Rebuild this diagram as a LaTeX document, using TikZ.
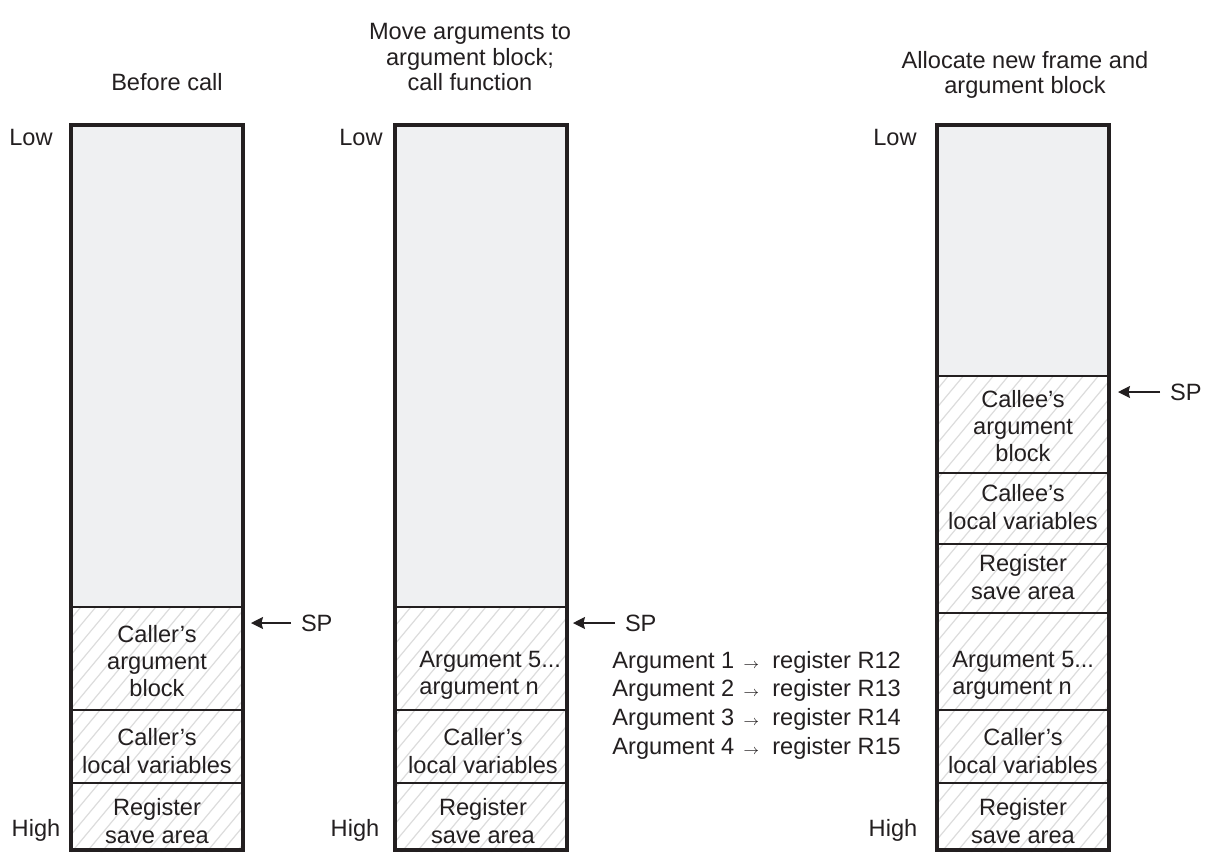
\documentclass[tikz,border=0pt]{standalone}
\usepackage{fontspec}
\setmainfont{Liberation Sans}
\usetikzlibrary{arrows.meta}

\definecolor{ink}{HTML}{231F20}
\definecolor{emptygray}{HTML}{EFF0F2}
\definecolor{hatchgray}{HTML}{DCDCDC}

\newcommand{\regarrow}{\hspace{4.5pt}{\fontsize{7.5}{7.5}\selectfont$\rightarrow$}\hspace{6.5pt}}

\begin{document}
\begin{tikzpicture}[x=0.5pt,y=-0.5pt,
	txt/.style={align=center,font=\fontsize{11.8}{13.6}\selectfont,text=ink,inner sep=0pt},
	title/.style={align=center,font=\fontsize{11.8}{12.8}\selectfont,text=ink,inner sep=0pt},
	side/.style={font=\fontsize{11.8}{13}\selectfont,text=ink,inner sep=0pt},
	frame/.style={line width=1.75pt,draw=ink},
	sep/.style={line width=0.65pt,draw=ink},
	hatch/.style={line width=0.6pt,draw=hatchgray},
	spnote/.style={font=\fontsize{11.8}{13.6}\selectfont,text=ink,inner sep=0pt,outer sep=5pt,anchor=west},
	sparrow/.style={line width=0.7pt,draw=ink,-{Stealth[length=6pt,width=6pt,inset=0.8pt]}}]

		\useasboundingbox (0,0) rectangle (1205,852);

		% empty part of the stacks
		\fill[emptygray] (71,125) rectangle (243,607);
		\fill[emptygray] (395,125) rectangle (567,607);
		\fill[emptygray] (937,125) rectangle (1109,376);

		% hatched (used) part of the stacks
		\begin{scope}
			\clip (71,607) rectangle (243,852) (395,607) rectangle (567,852) (937,376) rectangle (1109,852);
			\foreach \x in {-700,-685,...,1200}
				\draw[hatch] (\x,860) -- ++(600,-720);
		\end{scope}

		% block boundaries
		\foreach \y in {607,710,783} {
			\draw[sep] (71,\y) -- (243,\y);
			\draw[sep] (395,\y) -- (567,\y);
		}
		\foreach \y in {376,473,544,613,710,783}
			\draw[sep] (937,\y) -- (1109,\y);

		% stack outlines
		\draw[frame] (71,850) -- (71,125) -- (243,125) -- (243,850) -- cycle;
		\draw[frame] (395,850) -- (395,125) -- (567,125) -- (567,850) -- cycle;
		\draw[frame] (937,850) -- (937,125) -- (1109,125) -- (1109,850) -- cycle;

		% titles
		\node[title] (before) at (167,82) {Before call};
		\node[title] (move) at (470,57) {Move arguments to\\argument block;\\call function};
		\node[title] (alloc) at (1025,75) {Allocate new frame and\\argument block};

		\node[side] (low1) at (31,137) {Low};
		\node[side] (low2) at (361,137) {Low};
		\node[side] (low3) at (895,137) {Low};
		\node[side] (high1) at (36,830) {High};
		\node[side] (high2) at (355,830) {High};
		\node[side] (high3) at (893,830) {High};

		% before call
		\node[txt] (argblk1) at (157,661) {Caller’s\\argument\\block};
		\node[txt] (locals1) at (157,751) {Caller’s\\local variables};
		\node[txt] (regsave1) at (157,821) {Register\\save area};

		% call function
		\node[txt,align=left,anchor=west] (args2) at (419,675) {Argument 5...\\argument n};
		\node[txt] (locals2) at (483,751) {Caller’s\\local variables};
		\node[txt] (regsave2) at (483,821) {Register\\save area};

		% new frame
		\node[txt] (calleeblk) at (1023,426) {Callee’s\\argument\\block};
		\node[txt] (calleeloc) at (1023,507) {Callee’s\\local variables};
		\node[txt] (calleereg) at (1023,577) {Register\\save area};
		\node[txt,align=left,anchor=west] (args3) at (952,675) {Argument 5...\\argument n};
		\node[txt] (locals3) at (1023,751) {Caller’s\\local variables};
		\node[txt] (regsave3) at (1023,821) {Register\\save area};

		% registers
		\node[txt,align=left,anchor=west,font=\fontsize{11.8}{14.3}\selectfont] (regs) at (612,705)
			{Argument 1\regarrow register R12\\Argument 2\regarrow register R13\\Argument 3\regarrow register R14\\Argument 4\regarrow register R15};

		% stack pointers
		\coordinate (tip1) at (251,623);
		\coordinate (tip2) at (573,623);
		\coordinate (tip3) at (1118,392);
		\node[spnote] (sp1) at (291,623) {SP};
		\node[spnote] (sp2) at (615,623) {SP};
		\node[spnote] (sp3) at (1160,392) {SP};
		\draw[sparrow] (sp1.west) -- (tip1);
		\draw[sparrow] (sp2.west) -- (tip2);
		\draw[sparrow] (sp3.west) -- (tip3);
\end{tikzpicture}
\end{document}
